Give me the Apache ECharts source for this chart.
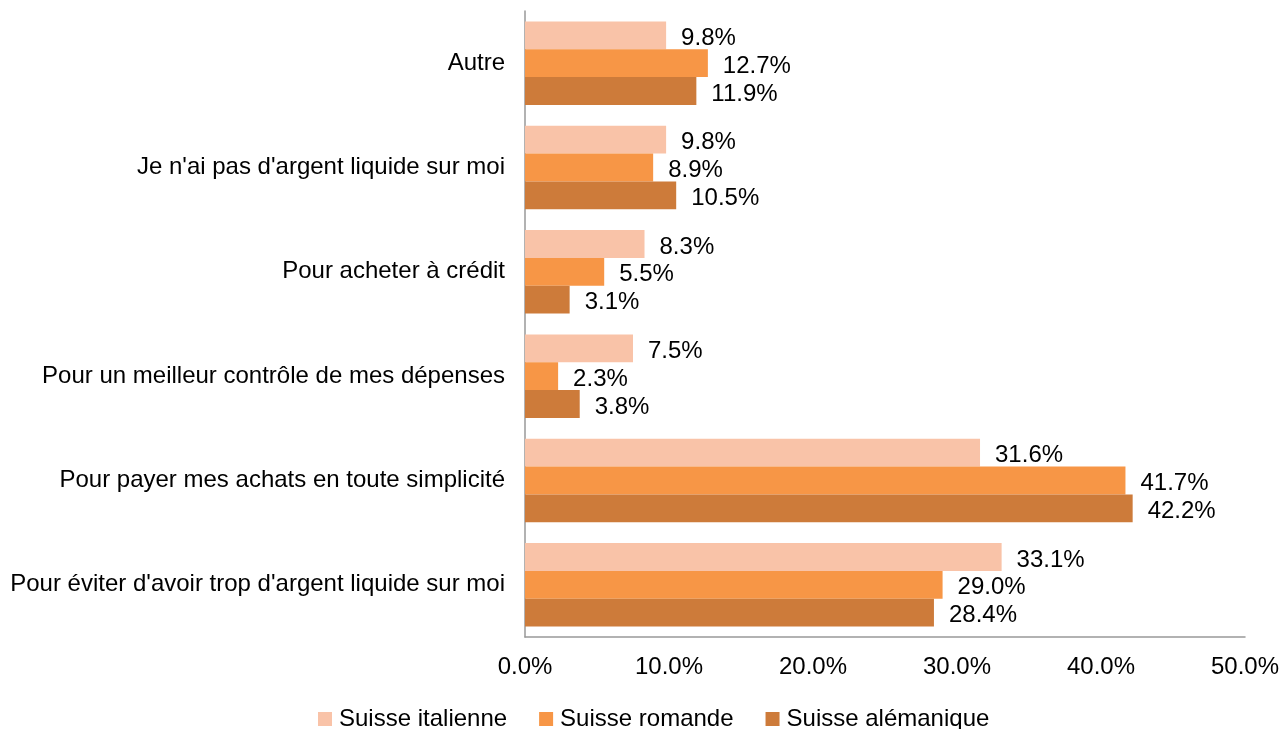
<!DOCTYPE html>
<html><head><meta charset="utf-8">
<script src="https://cdn.jsdelivr.net/npm/echarts@6/dist/echarts.min.js"></script>
<style>html,body{margin:0;padding:0;background:#fff}#c{width:1282px;height:729px}</style>
</head><body><div id="c"></div>
<script>
const categories = ["Autre", "Je n'ai pas d'argent liquide sur moi", "Pour acheter à crédit", "Pour un meilleur contrôle de mes dépenses", "Pour payer mes achats en toute simplicité", "Pour éviter d'avoir trop d'argent liquide sur moi"];
const seriesNames = ["Suisse italienne", "Suisse romande", "Suisse alémanique"];
const italienne = [9.8, 9.8, 8.3, 7.5, 31.6, 33.1];
const romande = [12.7, 8.9, 5.5, 2.3, 41.7, 29.0];
const alemanique = [11.9, 10.5, 3.1, 3.8, 42.2, 28.4];
const colors = ["#F9C3A8", "#F79646", "#CD7B3A"];
const values = [italienne, romande, alemanique];
const font = "Liberation Sans, Arial, sans-serif";
const fs = 24;
const chart = echarts.init(document.getElementById('c'));
chart.setOption({
  animation: false,
  grid: {left: 525, right: 37, top: 11, bottom: 92, containLabel: false},
  legend: {
    bottom: -7, left: 313, itemWidth: 14, itemHeight: 14, itemGap: 32,
    icon: 'rect', data: seriesNames,
    textStyle: {fontFamily: font, fontSize: fs, color: '#000', padding: [0,0,0,2]}
  },
  xAxis: {
    type: 'value', min: 0, max: 50, interval: 10,
    axisLine: {show: true, lineStyle: {color: '#999', width: 1.5}},
    axisTick: {show: false}, splitLine: {show: false},
    axisLabel: {formatter: v => v.toFixed(1) + '%', fontFamily: font, fontSize: fs, color: '#000', margin: 18}
  },
  yAxis: {
    type: 'category', data: categories, inverse: true,
    axisLine: {show: true, lineStyle: {color: '#999', width: 1.5}},
    axisTick: {show: false},
    axisLabel: {fontFamily: font, fontSize: fs, color: '#000', margin: 20, padding: [8,0,0,0]}
  },
  series: seriesNames.map((n, i) => ({
    name: n, type: 'bar', data: values[i], barGap: '0%', barCategoryGap: '20%',
    itemStyle: {color: colors[i]},
    label: {show: true, position: 'right', distance: 15, offset: [0, 3], formatter: p => p.value.toFixed(1) + '%',
      fontFamily: font, fontSize: fs, color: '#000'}
  }))
});
</script></body></html>
